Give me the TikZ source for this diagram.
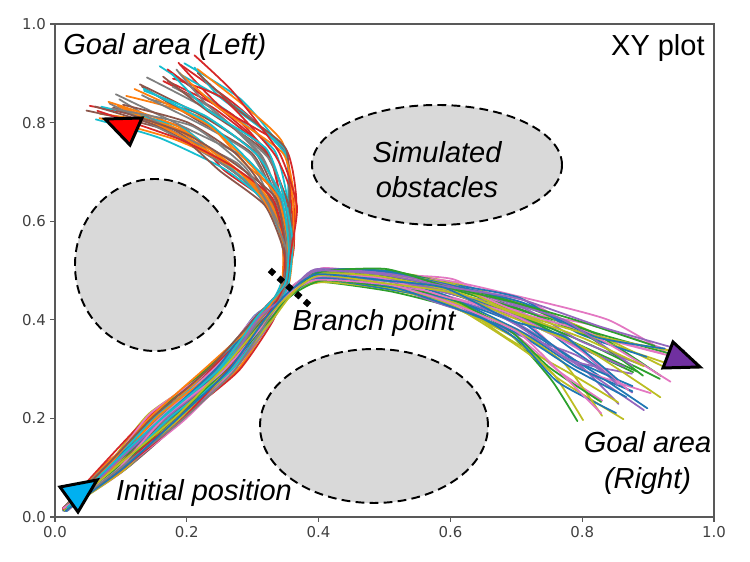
\documentclass[tikz,border=0pt]{standalone}
\usepackage{fontspec}
\setmainfont{Liberation Sans}
\newfontfamily\tickfont{DejaVu Sans}
\usepackage{tikz}

\definecolor{tab0}{HTML}{1F77B4}
\definecolor{tab1}{HTML}{FF7F0E}
\definecolor{tab2}{HTML}{2CA02C}
\definecolor{tab3}{HTML}{D62728}
\definecolor{tab4}{HTML}{9467BD}
\definecolor{tab5}{HTML}{8C564B}
\definecolor{tab6}{HTML}{E377C2}
\definecolor{tab7}{HTML}{7F7F7F}
\definecolor{tab8}{HTML}{BCBD22}
\definecolor{tab9}{HTML}{17BECF}
\definecolor{obst}{HTML}{D9D9D9}
\definecolor{startcol}{HTML}{00B0F0}
\definecolor{rightcol}{HTML}{7030A0}

\begin{document}
\begin{tikzpicture}[
  frame/.style={draw=black!65, line width=0.6pt},
  tick/.style={draw=black!65, line width=0.6pt},
  ticklabel/.style={font=\tickfont\fontsize{8.5}{10}\selectfont, text=black!75, inner sep=1pt},
  obstacle/.style={draw=black, fill=obst, line width=1.1pt, dash pattern=on 5pt off 3pt},
  caption/.style={font=\itshape\fontsize{16.5}{20}\selectfont, align=center, inner sep=0pt},
  marker/.style={draw=black, line width=1.7pt, line join=miter},
  traj/.style={line width=1pt, line join=round, line cap=round},
  branchdots/.style={line width=0.12cm, dash pattern=on 0.12cm off 0.114cm}
  ]
  \useasboundingbox (0,0) rectangle (15,11.24);

  % obstacles
  \draw[obstacle] (3.1,5.94) ellipse [x radius=1.6cm, y radius=1.72cm];
  \draw[obstacle] (8.74,7.94) ellipse [x radius=2.5cm, y radius=1.2cm];
  \draw[obstacle] (7.48,2.72) ellipse [x radius=2.28cm, y radius=1.54cm];

  \begin{scope}[shift={(1.1,0.9)}, x=13.18cm, y=9.86cm]
    \draw[frame] (0,0) rectangle (1,1);
    \foreach \t [count=\k] in {0.0,0.2,0.4,0.6,0.8,1.0}{
      \draw[tick] (\t,0) -- ++(0,-0.1cm) node[below=1pt, ticklabel] (xtick\k) {\t};
      \draw[tick] (0,\t) -- ++(-0.1cm,0) node[left=1pt, ticklabel] (ytick\k) {\t};
    }

    \pgfmathsetseed{12}
    \foreach \i in {1,...,90}{
      \pgfmathtruncatemacro{\c}{mod(\i,10)}
      \pgfmathsetmacro{\u}{rnd}
      \pgfmathsetmacro{\w}{0.5*\u+0.5*rnd}
      \pgfmathsetmacro{\s}{rand}
      \ifodd\i
        \draw[traj, tab\c] plot[smooth, tension=0.35] coordinates {
          ({0.012+0.008*rnd},{0.012+0.008*rnd})
          ({0.09+0.015*\s+0.006*rand},{0.1+0.01*rand})
          ({0.17+0.025*\s+0.008*rand},{0.2+0.01*rand})
          ({0.255+0.02*\s+0.006*rand},{0.3+0.01*rand})
          ({0.315+0.012*\s+0.005*rand},{0.4+0.008*rand})
          ({0.348+0.006*rand},{0.465+0.008*rand})
          ({0.348+0.014*\u+0.004*rand},{0.55+0.01*rand})
          ({0.318+0.048*\u+0.007*rand},{0.64+0.01*rand})
          ({0.255+0.1*\u+0.012*rand},{0.71+0.04*\u+0.012*rand})
          ({0.17+0.11*\u+0.018*rand},{0.775+0.075*\u+0.018*rand})
          ({0.06+0.16*\u+0.02*rand},{0.815+0.11*\u+0.02*rand})};
      \else
        \draw[traj, tab\c] plot[smooth, tension=0.35] coordinates {
          ({0.012+0.008*rnd},{0.012+0.008*rnd})
          ({0.09+0.015*\s+0.006*rand},{0.1+0.01*rand})
          ({0.17+0.025*\s+0.008*rand},{0.2+0.01*rand})
          ({0.255+0.02*\s+0.006*rand},{0.3+0.01*rand})
          ({0.315+0.012*\s+0.005*rand},{0.4+0.008*rand})
          ({0.355+0.006*rand},{0.455+0.006*rand})
          ({0.40+0.006*rand},{0.478+0.024*\u+0.004*rand})
          ({0.5+0.01*rand},{0.462+0.038*\u+0.006*rand})
          ({0.6+0.01*rand},{0.425+0.055*\u+0.01*rand})
          ({0.7+0.015*rand},{0.36+0.08*\u+0.015*rand})
          ({0.745+0.09*\w+0.015*rand},{0.28+0.11*\u+0.02*rand})
          ({0.79+0.18*\w+0.01*rand},{0.19+0.15*\u+0.025*rand})};
      \fi
    }
  \end{scope}

  % markers
  \filldraw[marker, fill=red] (2.1,8.86) -- (2.84,8.88) -- (2.6,8.34) -- cycle;
  \filldraw[marker, fill=startcol] (1.2,1.5) -- (1.94,1.64) -- (1.56,1.0) -- cycle;
  \filldraw[marker, fill=rightcol] (13.46,4.4) -- (13.26,3.88) -- (14.0,3.9) -- cycle;

  \draw[branchdots] (5.395,5.84) -- (6.185,5.14);

  \node[caption, anchor=west] (goalleft) at (1.26,10.3) {Goal area (Left)};
  \node[anchor=east, inner sep=0pt, font=\fontsize{16.5}{20}\selectfont] (title) at (14.1,10.28) {XY plot};
  \node[caption] (obstacles) at (8.74,7.84) {Simulated\\obstacles};
  \node[caption] (branch) at (7.48,4.78) {Branch point};
  \node[caption] (initial) at (4.08,1.38) {Initial position};
  \node[caption] (goalright) at (12.95,1.98) {Goal area\\(Right)};
\end{tikzpicture}
\end{document}
